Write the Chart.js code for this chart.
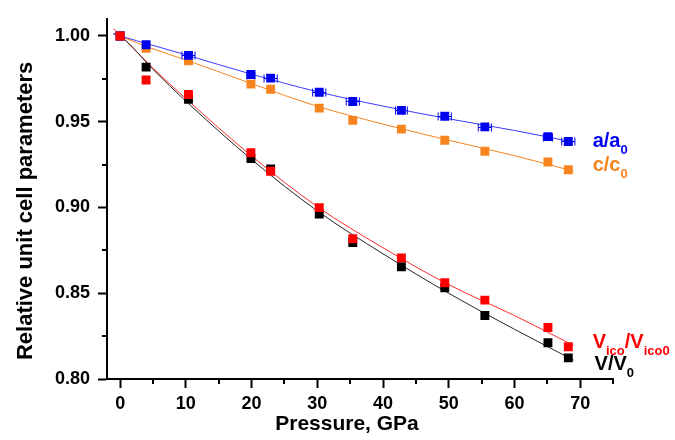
<!DOCTYPE html>
<html>
<head>
<meta charset="utf-8">
<script src="https://cdn.jsdelivr.net/npm/chart.js@4.4.0/dist/chart.umd.min.js"></script>
<style>
  html, body { margin: 0; padding: 0; background: #fff; }
  #wrap { width: 675px; height: 440px; position: relative; }
</style>
</head>
<body>
<div id="wrap"><canvas id="c"></canvas></div>
<script>
// ── Data ──
const pressure = [0, 3.95, 10.4, 19.9, 22.9, 30.3, 35.4, 42.8, 49.4, 55.5, 65.1, 68.2];
const aRel    = [1.000, 0.9949, 0.9887, 0.9775, 0.9754, 0.9672, 0.9618, 0.9566, 0.9532, 0.9470, 0.9413, 0.9385];
const aErr    = [0, 0, 1.0, 0.6, 1.0, 1.0, 1.0, 0.9, 1.0, 1.0, 0.7, 1.0];
const cRel    = [1.000, 0.9928, 0.9855, 0.9719, 0.9689, 0.9579, 0.9508, 0.9457, 0.9392, 0.9328, 0.9265, 0.9220];
const vRel    = [1.000, 0.9818, 0.9631, 0.9285, 0.9224, 0.8962, 0.8796, 0.8654, 0.8532, 0.8370, 0.8211, 0.8123];
const vicoRel = [1.000, 0.9743, 0.9659, 0.9319, 0.9211, 0.8999, 0.8818, 0.8706, 0.8561, 0.8460, 0.8300, 0.8188];

// fitted curves, sampled off the figure
const fitP    = [-1, 0, 5, 10, 20, 30, 40, 50, 60, 69];
const aFit    = [1.0012, 1.0000, 0.9945, 0.9890, 0.9777, 0.9675, 0.9591, 0.9517, 0.9449, 0.9381];
const cFit    = [1.0012, 0.9998, 0.9925, 0.9860, 0.9722, 0.9590, 0.9486, 0.9392, 0.9302, 0.9212];
const vFit    = [1.0015, 1.0000, 0.9805, 0.9620, 0.9280, 0.8980, 0.8730, 0.8500, 0.8290, 0.8110];
const vicoFit = [1.0042, 1.0005, 0.9812, 0.9635, 0.9300, 0.9005, 0.8765, 0.8550, 0.8370, 0.8196];

// axes
const xTicks = [0, 10, 20, 30, 40, 50, 60, 70];
const xMinor = [5, 15, 25, 35, 45, 55, 65, 75];
const yTicks = [0.80, 0.85, 0.90, 0.95, 1.00];
const yMinor = [0.825, 0.875, 0.925, 0.975];

const BLUE = '#0000f0', ORANGE = '#f7851f', RED = '#ff0000', BLACK = '#000000';
const FF = '"Liberation Sans", Arial, sans-serif';

// ── Series labels at right ──
const seriesLabels = [
  { color: BLUE,   p: 71.9, v: 0.9353, parts: [['a/a', 0], ['0', 1]] },
  { color: ORANGE, p: 71.9, v: 0.9212, parts: [['c/c', 0], ['0', 1]] },
  { color: RED,    p: 71.9, v: 0.8181, parts: [['V', 0], ['ico', 1], ['/V', 0], ['ico0', 1]] },
  { color: BLACK,  p: 72.2, v: 0.8053, parts: [['V/V', 0], ['0', 1]] }
];

const pts = (ys, xs = pressure) => xs.map((x, i) => ({ x, y: ys[i] }));

function ptSet(label, ys, col, ord) {
  return { label, data: pts(ys), backgroundColor: col, borderColor: col, borderWidth: 0,
           pointStyle: 'rect', pointRadius: 6.3, showLine: false, order: ord };
}
function fitSet(label, ys, col) {
  return { label, data: pts(ys, fitP), borderColor: col, backgroundColor: 'transparent', borderWidth: 1,
           pointRadius: 0, showLine: true, cubicInterpolationMode: 'monotone', order: 10 };
}

// ── Decorations: minor ticks, error bars, labels, axis titles ──
const decor = {
  id: 'decor',
  afterDatasetsDraw(chart) {
    const { ctx, scales: { x, y } } = chart;
    ctx.save();
    ctx.strokeStyle = BLUE; ctx.lineWidth = 1;
    pressure.forEach((p, i) => {
      if (!aErr[i]) return;
      const x0 = x.getPixelForValue(p - aErr[i]), x1 = x.getPixelForValue(p + aErr[i]);
      const py = Math.round(y.getPixelForValue(aRel[i])) + 0.5;
      ctx.beginPath();
      ctx.moveTo(x0, py); ctx.lineTo(x1, py);
      ctx.moveTo(x0, py - 4); ctx.lineTo(x0, py + 4);
      ctx.moveTo(x1, py - 4); ctx.lineTo(x1, py + 4);
      ctx.stroke();
    });
    ctx.restore();
  },
  afterDraw(chart) {
    const { ctx, scales: { x, y }, chartArea: ca } = chart;
    ctx.save();
    // minor ticks
    ctx.strokeStyle = BLACK; ctx.lineWidth = 2;
    xMinor.forEach(v => {
      const px = Math.round(x.getPixelForValue(v));
      ctx.beginPath(); ctx.moveTo(px, ca.bottom); ctx.lineTo(px, ca.bottom + 5); ctx.stroke();
    });
    yMinor.forEach(v => {
      const py = Math.round(y.getPixelForValue(v));
      ctx.beginPath(); ctx.moveTo(ca.left, py); ctx.lineTo(ca.left - 5, py); ctx.stroke();
    });

    // series labels with subscripts
    ctx.textBaseline = 'alphabetic'; ctx.textAlign = 'left';
    seriesLabels.forEach(l => {
      let cx = x.getPixelForValue(l.p);
      const by = y.getPixelForValue(l.v);
      ctx.fillStyle = l.color;
      l.parts.forEach(([t, sub]) => {
        ctx.font = sub ? `bold 13px ${FF}` : `bold 20px ${FF}`;
        ctx.fillText(t, cx, sub ? by + 7 : by);
        cx += ctx.measureText(t).width;
      });
    });

    // axis titles
    ctx.fillStyle = BLACK;
    ctx.font = `bold 21px ${FF}`;
    ctx.textAlign = 'center'; ctx.textBaseline = 'middle';
    ctx.fillText('Pressure, GPa', (ca.left + ca.right) / 2 - 13, chart.height - 16);
    ctx.font = `bold 22px ${FF}`;
    ctx.translate(26, (ca.top + ca.bottom) / 2 + 12);
    ctx.rotate(-Math.PI / 2);
    ctx.fillText('Relative unit cell parameters', 0, 0);
    ctx.restore();
  }
};

const tickFont = { family: FF, size: 18, weight: 'bold' };

new Chart(document.getElementById('c').getContext('2d'), {
  type: 'scatter',
  data: {
    datasets: [
      ptSet('Vico/Vico0', vicoRel, RED, 1),
      ptSet('V/V0', vRel, BLACK, 2),
      ptSet('a/a0', aRel, BLUE, 1),
      ptSet('c/c0', cRel, ORANGE, 1),
      fitSet('a fit', aFit, '#3a3aff'),
      fitSet('c fit', cFit, ORANGE),
      fitSet('V fit', vFit, '#222222'),
      fitSet('Vico fit', vicoFit, '#ff2a2a')
    ]
  },
  options: {
    responsive: true, maintainAspectRatio: false, animation: false, events: [],
    layout: { padding: { top: 5, right: 62, left: 0, bottom: 0 } },
    plugins: { legend: { display: false }, tooltip: { enabled: false } },
    scales: {
      x: {
        type: 'linear', min: -2, max: 75,
        afterBuildTicks: s => { s.ticks = xTicks.map(value => ({ value })); },
        afterFit: s => { s.height = 61; },
        border: { display: true, color: BLACK, width: 2 },
        grid: { drawOnChartArea: false, drawTicks: true, tickLength: 9, tickWidth: 2, tickColor: BLACK },
        ticks: { color: BLACK, font: tickFont, padding: 5, autoSkip: false, maxRotation: 0, callback: v => String(v) }
      },
      y: {
        type: 'linear', min: 0.80, max: 1.01,
        afterBuildTicks: s => { s.ticks = yTicks.map(value => ({ value })); },
        afterFit: s => { s.width = 107; },
        border: { display: true, color: BLACK, width: 2 },
        grid: { drawOnChartArea: false, drawTicks: true, tickLength: 9, tickWidth: 2, tickColor: BLACK },
        ticks: { color: BLACK, font: tickFont, padding: 8, autoSkip: false, callback: v => v.toFixed(2) }
      }
    }
  },
  plugins: [decor]
});
</script>
</body>
</html>
